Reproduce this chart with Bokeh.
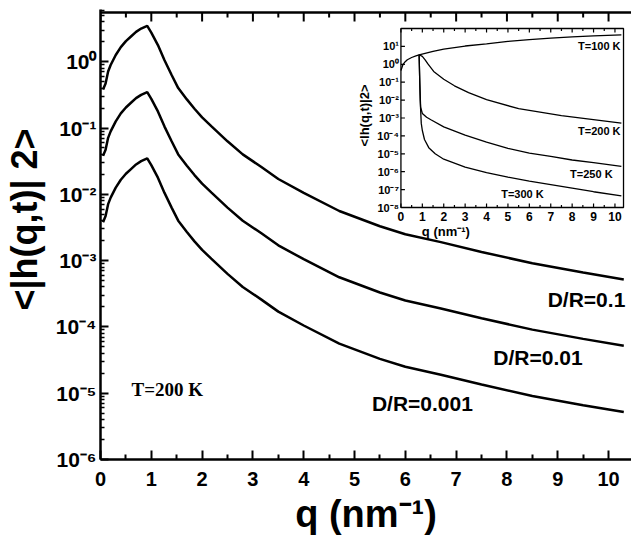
import math
from bokeh.plotting import figure
from bokeh.models import Range1d, LogScale, FixedTicker, CustomJSTickFormatter
from bokeh.core.properties import value
from bokeh.embed import file_html
from bokeh.resources import INLINE

# ---------------- data ----------------
q_main = [0.05, 0.1, 0.15, 0.2, 0.3, 0.4, 0.5, 0.6, 0.7, 0.8, 0.92, 1.0, 1.13,
          1.26, 1.4, 1.53, 1.7, 1.85, 2.0, 2.18, 2.5, 2.8, 3.16, 3.5, 4.0, 4.7,
          5.5, 6.0, 6.7, 7.5, 8.5, 9.5, 10.3]
h_dr_0p1 = [0.38, 0.47, 0.71, 0.89, 1.26, 1.66, 2.04, 2.40, 2.82, 3.16, 3.47,
            2.75, 1.78, 1.05, 0.63, 0.40, 0.27, 0.195, 0.145, 0.107, 0.063,
            0.040, 0.026, 0.017, 0.0105, 0.0056, 0.0033, 0.0025, 0.0019,
            0.00135, 0.00091, 0.00066, 0.00052]
h_dr_0p01 = [0.038, 0.047, 0.071, 0.089, 0.126, 0.166, 0.204, 0.240, 0.282,
             0.316, 0.347, 0.275, 0.178, 0.105, 0.063, 0.040, 0.027, 0.0195,
             0.0145, 0.0107, 0.0063, 0.0040, 0.0026, 0.0017, 0.00105, 0.00056,
             0.00033, 0.00025, 0.00019, 0.000135, 0.000091, 0.000066, 0.000052]
h_dr_0p001 = [0.0038, 0.0047, 0.0071, 0.0089, 0.0126, 0.0166, 0.0204, 0.0240,
              0.0282, 0.0316, 0.0347, 0.0275, 0.0178, 0.0105, 0.0063, 0.0040,
              0.0027, 0.00195, 0.00145, 0.00107, 0.00063, 0.00040, 0.00026,
              0.00017, 0.000105, 0.000056, 0.000033, 0.000025, 0.000019,
              0.0000135, 0.0000091, 0.0000066, 0.0000052]

x_ticks = [0, 1, 2, 3, 4, 5, 6, 7, 8, 9, 10]
x_minor = [0.5, 1.5, 2.5, 3.5, 4.5, 5.5, 6.5, 7.5, 8.5, 9.5, 10.5]
y_ticks = [1e-6, 1e-5, 1e-4, 1e-3, 1e-2, 1e-1, 1e0]
y_labels = ["10\u207b\u2076", "10\u207b\u2075", "10\u207b\u2074", "10\u207b\u00b3",
            "10\u207b\u00b2", "10\u207b\u00b9", "10\u2070"]

# inset data
q_t100 = [0, 0.1, 0.2, 0.3, 0.5, 0.7, 0.85, 1.5, 2, 3, 4, 5, 6, 7, 8, 9, 10.3]
h_t100 = [0.45, 1.0, 1.4, 1.8, 2.4, 2.95, 3.4, 5.2, 7.1, 10.5, 14, 19, 24, 29,
          34, 39, 44]
q_t200 = [0.85, 1.0, 1.13, 1.26, 1.53, 2.0, 2.5, 3.16, 4.0, 5.5, 7.5, 10.3]
h_t200 = [3.4, 2.75, 1.78, 1.05, 0.40, 0.145, 0.063, 0.026, 0.0105, 0.0033,
          0.00135, 0.00052]
q_t250 = [0.85, 0.88, 0.92, 1.0, 1.2, 1.4, 2, 3, 4, 5, 6, 7, 8, 9, 10.3]
h_t250 = [3.4, 0.1, 0.004, 0.0018, 0.0011, 0.0008, 3.2e-4, 1.1e-4, 4.5e-5,
          2.0e-5, 1.1e-5, 7.1e-6, 4.5e-6, 3.2e-6, 2.0e-6]
q_t300 = [0.85, 0.9, 0.95, 1.0, 1.1, 1.3, 1.6, 2, 3, 4, 5, 6, 7, 8, 9, 10.3]
h_t300 = [3.4, 0.01, 5e-4, 2e-4, 6.3e-5, 2.2e-5, 1e-5, 5e-6, 1.8e-6, 8.9e-7,
          5e-7, 3e-7, 1.9e-7, 1.2e-7, 7.6e-8, 4.5e-8]

inset_x_ticks = [0, 1, 2, 3, 4, 5, 6, 7, 8, 9, 10]
inset_x_minor = [0.5, 1.5, 2.5, 3.5, 4.5, 5.5, 6.5, 7.5, 8.5, 9.5]
inset_y_ticks = [1e-8, 1e-7, 1e-6, 1e-5, 1e-4, 1e-3, 1e-2, 1e-1, 1e0, 1e1]
inset_y_labels = ["10\u207b\u2078", "10\u207b\u2077", "10\u207b\u2076", "10\u207b\u2075",
                  "10\u207b\u2074", "10\u207b\u00b3", "10\u207b\u00b2", "10\u207b\u00b9",
                  "10\u2070", "10\u00b9"]

# ---------------- layout geometry (pixels) ----------------
W, H = 631, 552
FL, FR, FT, FB = 99, 631, 9, 459
PX_X = 50.9           # main: pixels per q unit
PX_DEC = 66.3         # main: pixels per decade
TOPLINE_PX = 12       # pixel row of the top border line
X_END = (FR - FL) / PX_X
top_log = (FB - FT) / PX_DEC - 6
Y_TOP = 10 ** top_log
Y_LINE = 10 ** ((FB - TOPLINE_PX) / PX_DEC - 6)
# inset box in pixels
IL, IR, IT, IB = 400, 623, 28, 207
I_XMAX = 10.4
I_YLO, I_YHI = -8, 2          # log10 limits
ipx_x = (IR - IL) / I_XMAX
ipx_dec = (IB - IT) / (I_YHI - I_YLO)

FONT = value("Liberation Sans")

p = figure(width=W, height=H, x_range=Range1d(0, X_END),
           y_range=Range1d(1e-6, Y_TOP), y_axis_type="log",
           output_backend="svg", toolbar_location=None,
           min_border_left=FL, min_border_right=W - FR,
           min_border_top=FT, min_border_bottom=H - FB)
p.outline_line_color = None
p.grid.visible = False
p.background_fill_color = "white"
p.border_fill_color = "white"

# ----- x axis -----
xa = p.xaxis[0]
xa.ticker = FixedTicker(ticks=x_ticks, minor_ticks=x_minor)
xa.axis_line_width = 2.5
xa.axis_line_color = "black"
xa.major_tick_in = 9
xa.major_tick_out = 0
xa.minor_tick_in = 5
xa.minor_tick_out = 0
xa.major_tick_line_width = 2
xa.minor_tick_line_width = 2
xa.major_tick_line_color = "black"
xa.minor_tick_line_color = "black"
xa.major_label_text_font = "Liberation Sans"
xa.major_label_text_font_style = "bold"
xa.major_label_text_font_size = "20px"
xa.major_label_text_color = "black"
xa.major_label_standoff = 12
xa.axis_label = "q (nm\u207b\u00b9)"
xa.axis_label_text_font = "Liberation Sans"
xa.axis_label_text_font_style = "bold"
xa.axis_label_text_font_size = "38px"
xa.axis_label_text_color = "black"
xa.axis_label_standoff = 4

# ----- y axis -----
y_minor = []
for e in range(-6, 1):
    for k in range(2, 10):
        y_minor.append(k * 10.0 ** e)
ya = p.yaxis[0]
ya.ticker = FixedTicker(ticks=y_ticks, minor_ticks=y_minor)
ya.formatter = CustomJSTickFormatter(args=dict(tk=y_ticks, lb=y_labels), code="""
let best = 0, bd = Infinity;
for (let i = 0; i < tk.length; i++) {
  const d = Math.abs(Math.log10(tk[i]) - Math.log10(tick));
  if (d < bd) { bd = d; best = i; }
}
return lb[best];
""")
ya.axis_line_width = 2.5
ya.axis_line_color = "black"
ya.major_tick_in = 8
ya.major_tick_out = 0
ya.minor_tick_in = 4
ya.minor_tick_out = 0
ya.major_tick_line_width = 2
ya.minor_tick_line_width = 1.5
ya.major_tick_line_color = "black"
ya.minor_tick_line_color = "black"
ya.major_label_text_font = "Liberation Sans"
ya.major_label_text_font_style = "bold"
ya.major_label_text_font_size = "21px"
ya.major_label_text_color = "black"
ya.major_label_standoff = 4
ya.axis_label = "\u00a0\u00a0\u00a0\u00a0<|h(q,t)|  2>"
ya.axis_label_text_font = "Liberation Sans"
ya.axis_label_text_font_style = "bold"
ya.axis_label_text_font_size = "36px"
ya.axis_label_text_color = "black"
ya.axis_label_standoff = 8

# ----- top border with inward ticks (drawn as glyphs) -----
tx0, tx1, ty0, ty1 = [], [], [], []
for t in x_ticks + x_minor:
    L = 9 if t in x_ticks else 5
    tx0.append(t); tx1.append(t)
    ty0.append(Y_LINE); ty1.append(Y_LINE / 10 ** (L / PX_DEC))
p.segment(x0=[0], y0=[Y_LINE], x1=[X_END], y1=[Y_LINE], line_color="black",
          line_width=2.5)
p.segment(x0=tx0, y0=ty0, x1=tx1, y1=ty1, line_color="black", line_width=2)

# ----- main curves -----
for ys in (h_dr_0p1, h_dr_0p01, h_dr_0p001):
    p.line(q_main, ys, line_color="black", line_width=2.5)

# main annotations (anchor positions in data units)
p.text(x=[10.33], y=[2.6e-4], text=["D/R=0.1"], text_font=FONT,
       text_font_style="bold", text_font_size="21px", text_align="right",
       text_baseline="middle", text_color="black")
p.text(x=[9.49], y=[3.4e-5], text=["D/R=0.01"], text_font=FONT,
       text_font_style="bold", text_font_size="21px", text_align="right",
       text_baseline="middle", text_color="black")
p.text(x=[7.33], y=[6.9e-6], text=["D/R=0.001"], text_font=FONT,
       text_font_style="bold", text_font_size="21px", text_align="right",
       text_baseline="middle", text_color="black")
p.text(x=[0.61], y=[1.12e-5], text=["T=200 K"], text_font=value("Liberation Serif"),
       text_font_style="bold", text_font_size="19px", text_align="left",
       text_baseline="middle", text_color="black")

# ---------------- inset (own ranges mapped to a sub-box) ----------------
ix0 = (FL - IL) / ipx_x
ix1 = (FR - IL) / ipx_x
iy_top_log = I_YHI + (IT - FT) / ipx_dec
iy_bot_log = I_YLO - (FB - IB) / ipx_dec
p.extra_x_ranges = {"ix": Range1d(ix0, ix1)}
p.extra_y_ranges = {"iy": Range1d(10 ** iy_bot_log, 10 ** iy_top_log)}
p.extra_y_scales = {"iy": LogScale()}
IK = dict(x_range_name="ix", y_range_name="iy")

ylo, yhi = 10.0 ** I_YLO, 10.0 ** I_YHI
p.quad(left=[0], right=[I_XMAX], bottom=[ylo], top=[yhi], fill_color="white",
       line_color="black", line_width=1.3, **IK)


def vt(px):
    return 10 ** (px / ipx_dec)


xs0, xs1, ys0, ys1 = [], [], [], []
for t in inset_x_ticks + inset_x_minor:
    L = 4 if t in inset_x_ticks else 2.5
    xs0 += [t, t]; xs1 += [t, t]
    ys0 += [ylo, yhi]; ys1 += [ylo * vt(L), yhi / vt(L)]
for t in inset_y_ticks:
    xs0.append(0); xs1.append(4 / ipx_x); ys0.append(t); ys1.append(t)
p.segment(x0=xs0, y0=ys0, x1=xs1, y1=ys1, line_color="black", line_width=1.2, **IK)

for qq, hh in ((q_t100, h_t100), (q_t200, h_t200), (q_t250, h_t250), (q_t300, h_t300)):
    p.line(qq, hh, line_color="black", line_width=1.3, **IK)

p.text(x=[-2 / ipx_x] * len(inset_y_ticks), y=inset_y_ticks, text=inset_y_labels,
       text_font=FONT, text_font_style="bold", text_font_size="11px",
       text_align="right", text_baseline="middle", text_color="black", **IK)
p.text(x=inset_x_ticks, y=[ylo / vt(4)] * len(inset_x_ticks),
       text=[str(t) for t in inset_x_ticks], text_font=FONT,
       text_font_style="bold", text_font_size="12px", text_align="center",
       text_baseline="top", text_color="black", **IK)
p.text(x=[(445 - IL) / ipx_x], y=[ylo / vt(24)], text=["q (nm\u207b\u00b9)"],
       text_font=FONT, text_font_style="bold", text_font_size="13px",
       text_align="center", text_baseline="middle", text_color="black", **IK)
p.text(x=[(363 - IL) / ipx_x], y=[yhi / vt(115 - IT)], text=["<lh(q,t)|2>"],
       angle=math.pi / 2, text_font=FONT, text_font_style="bold",
       text_font_size="13px", text_align="center", text_baseline="middle",
       text_color="black", **IK)

p.text(x=[10.26, 10.26, 9.89, 6.67], y=[11.2, 2.0e-4, 7.9e-7, 6.0e-8],
       text=["T=100 K", "T=200 K", "T=250 K", "T=300 K"], text_font=FONT,
       text_font_style="bold", text_font_size="11px", text_align="right",
       text_baseline="middle", text_color="black", **IK)

open("out.html", "w").write(file_html(p, INLINE))
